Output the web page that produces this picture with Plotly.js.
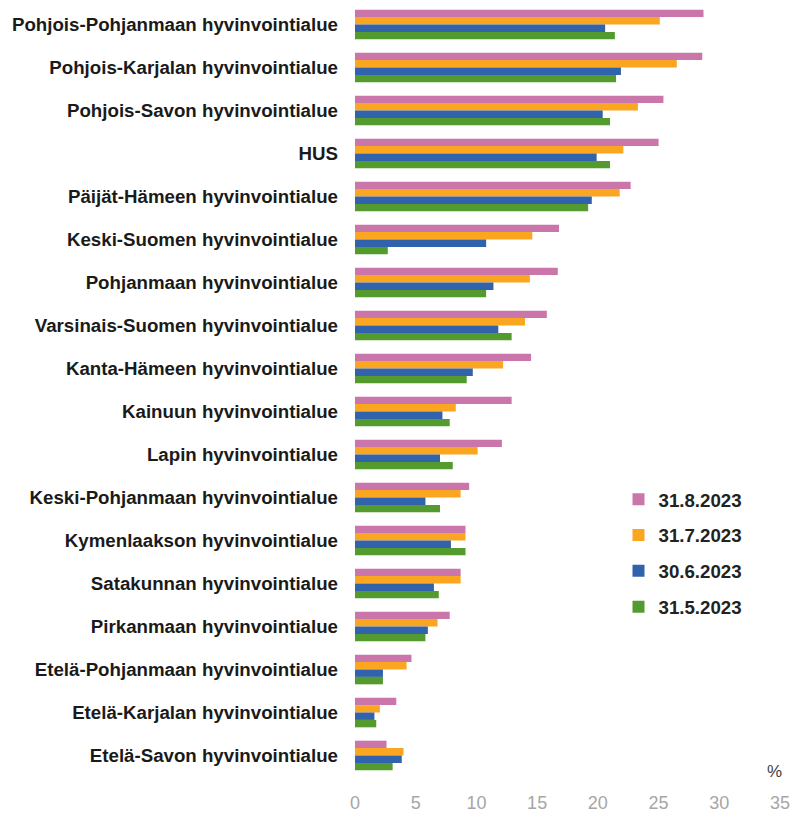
<!DOCTYPE html>
<html>
<head>
<meta charset="utf-8">
<script src="https://cdn.plot.ly/plotly-3.0.1.min.js"></script>
<style>html,body{margin:0;padding:0;background:#fff;}#chart{width:793px;height:815px;}</style>
</head>
<body>
<div id="chart"></div>
<script>
const regions = [
  "Pohjois-Pohjanmaan hyvinvointialue",
  "Pohjois-Karjalan hyvinvointialue",
  "Pohjois-Savon hyvinvointialue",
  "HUS",
  "Päijät-Hämeen hyvinvointialue",
  "Keski-Suomen hyvinvointialue",
  "Pohjanmaan hyvinvointialue",
  "Varsinais-Suomen hyvinvointialue",
  "Kanta-Hämeen hyvinvointialue",
  "Kainuun hyvinvointialue",
  "Lapin hyvinvointialue",
  "Keski-Pohjanmaan hyvinvointialue",
  "Kymenlaakson hyvinvointialue",
  "Satakunnan hyvinvointialue",
  "Pirkanmaan hyvinvointialue",
  "Etelä-Pohjanmaan hyvinvointialue",
  "Etelä-Karjalan hyvinvointialue",
  "Etelä-Savon hyvinvointialue"
];
const seriesNames = ["31.8.2023", "31.7.2023", "30.6.2023", "31.5.2023"];
const aug2023 = [28.7, 28.6, 25.4, 25.0, 22.7, 16.8, 16.7, 15.8, 14.5, 12.9, 12.1, 9.4, 9.1, 8.7, 7.8, 4.65, 3.4, 2.6];
const jul2023 = [25.1, 26.5, 23.3, 22.1, 21.8, 14.6, 14.4, 14.0, 12.2, 8.3, 10.1, 8.7, 9.1, 8.7, 6.8, 4.25, 2.05, 4.0];
const jun2023 = [20.6, 21.9, 20.4, 19.9, 19.5, 10.8, 11.4, 11.8, 9.7, 7.2, 7.0, 5.8, 7.9, 6.5, 6.0, 2.3, 1.6, 3.85];
const may2023 = [21.4, 21.5, 21.0, 21.0, 19.2, 2.7, 10.8, 12.9, 9.2, 7.8, 8.05, 7.0, 9.1, 6.9, 5.8, 2.3, 1.75, 3.1];
const xTicks = [0, 5, 10, 15, 20, 25, 30, 35];

const colors = ["#CB76AA", "#FBA620", "#3063AB", "#549B2F"];
const values = [aug2023, jul2023, jun2023, may2023];

const traces = values.map((v, i) => ({
  type: "bar",
  orientation: "h",
  name: seriesNames[i],
  x: v,
  y: regions,
  marker: {color: colors[i]},
  legendgroup: "g" + i,
  hoverinfo: "x+name"
}));

const layout = {
  width: 793,
  height: 815,
  margin: {l: 354.5, r: 13, t: 3, b: 37.5},
  paper_bgcolor: "#ffffff",
  plot_bgcolor: "#ffffff",
  barmode: "group",
  bargap: 0.31,
  bargroupgap: 0,
  font: {family: "Liberation Sans, Arial, sans-serif"},
  xaxis: {
    range: [0, 35],
    tickvals: xTicks,
    ticktext: xTicks.map(String),
    showgrid: false,
    zeroline: false,
    showline: false,
    ticks: "",
    tickfont: {size: 18, color: "#A6A6A6", family: "Liberation Sans, Arial, sans-serif"},
    ticklabelstandoff: 13,
    fixedrange: true
  },
  yaxis: {
    type: "category",
    autorange: "reversed",
    showgrid: false,
    zeroline: false,
    showline: false,
    ticks: "",
    ticklabelstandoff: 16,
    tickfont: {size: 18.7, color: "#1a1a1a", family: "Liberation Sans, Arial, sans-serif", weight: "bold"},
    fixedrange: true
  },
  showlegend: true,
  legend: {
    x: 0.62,
    y: 0.383,
    xanchor: "left",
    yanchor: "top",
    bgcolor: "rgba(0,0,0,0)",
    traceorder: "grouped",
    tracegroupgap: 8.5,
    itemwidth: 30,
    font: {size: 18.7, color: "#222222", family: "Liberation Sans, Arial, sans-serif", weight: "bold"}
  },
  annotations: [{
    text: "%",
    xref: "paper", yref: "paper",
    x: 1.0, y: 0.0,
    xanchor: "right", yanchor: "bottom",
    xshift: 4, yshift: -6,
    showarrow: false,
    font: {size: 17, color: "#404040", family: "Liberation Sans, Arial, sans-serif"}
  }]
};

Plotly.newPlot("chart", traces, layout, {displayModeBar: false, staticPlot: true});
</script>
</body>
</html>
